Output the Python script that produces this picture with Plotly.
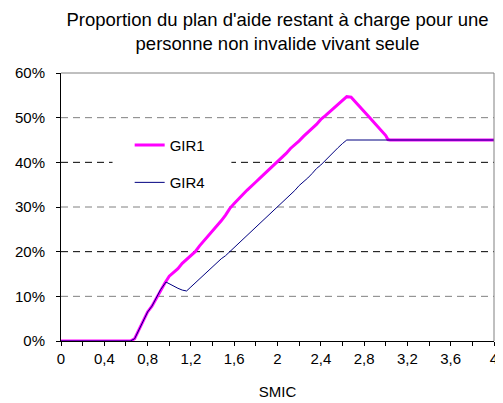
import plotly.graph_objects as go

# ---- data ----
gir1_x = [0, 0.64, 0.68, 0.72, 0.76, 0.80, 0.84, 0.88, 0.92, 0.96, 1.00, 1.04, 1.08, 1.12, 1.16,
          1.20, 1.24, 1.28, 1.32, 1.36, 1.40, 1.44, 1.48, 1.52, 1.56, 1.60, 1.64, 1.68, 1.72,
          1.76, 1.80, 1.84, 1.88, 1.92, 1.96, 2.00, 2.04, 2.08, 2.12, 2.16, 2.20, 2.24, 2.28,
          2.32, 2.36, 2.40, 2.44, 2.48, 2.52, 2.56, 2.60, 2.64, 2.68, 2.72, 2.76, 2.80, 2.84,
          2.88, 2.92, 2.96, 3.00, 3.02, 3.04, 4.00]
gir1_y = [0, 0, 0.5, 2.5, 4.5, 6.5, 7.8, 9.6, 11.5, 13.0, 14.5, 15.4, 16.2, 17.4, 18.2,
          19.0, 20.0, 21.3, 22.4, 23.5, 24.6, 25.8, 26.9, 28.2, 29.7, 30.8, 31.9, 32.8, 33.8,
          34.6, 35.6, 36.5, 37.4, 38.4, 39.3, 40.3, 41.2, 42.0, 43.1, 43.9, 44.8, 45.8, 46.6,
          47.6, 48.5, 49.6, 50.4, 51.3, 52.2, 53.0, 54.0, 54.7, 54.6, 53.6, 52.6, 51.4, 50.3,
          49.2, 48.1, 47.0, 46.0, 45.1, 45.0, 45.0]

gir4_x = [0, 0.64, 0.68, 0.72, 0.76, 0.80, 0.84, 0.88, 0.92, 0.97, 1.00, 1.04, 1.08, 1.12, 1.16,
          1.20, 1.24, 1.28, 1.32, 1.36, 1.40, 1.44, 1.48, 1.52, 1.56, 1.60, 1.64, 1.68, 1.72,
          1.76, 1.80, 1.84, 1.88, 1.92, 1.96, 2.00, 2.04, 2.08, 2.12, 2.16, 2.20, 2.24, 2.28,
          2.32, 2.36, 2.40, 2.44, 2.48, 2.52, 2.56, 2.60, 2.64, 4.00]
gir4_y = [0, 0, 0.5, 2.5, 4.5, 6.5, 7.8, 9.6, 11.5, 13.2, 12.8, 12.3, 11.8, 11.4, 11.2,
          12.1, 13.0, 14.0, 14.8, 15.8, 16.6, 17.4, 18.4, 19.1, 20.0, 20.9, 21.8, 22.8, 23.6,
          24.7, 25.5, 26.4, 27.3, 28.3, 29.2, 30.0, 30.9, 31.9, 32.8, 33.7, 34.8, 35.6, 36.5,
          37.5, 38.6, 39.4, 40.4, 41.5, 42.4, 43.3, 44.2, 45.0, 45.0]

x_tick_vals = [0, 0.4, 0.8, 1.2, 1.6, 2.0, 2.4, 2.8, 3.2, 3.6, 4.0]
x_tick_text = ["0", "0,4", "0,8", "1,2", "1,6", "2", "2,4", "2,8", "3,2", "3,6", "4"]
y_tick_vals = [0, 10, 20, 30, 40, 50, 60]
y_tick_text = ["0%", "10%", "20%", "30%", "40%", "50%", "60%"]
grid_levels = [10, 20, 30, 40, 50]
grid_colors = ["#808080", "#000000", "#808080", "#000000", "#808080"]

FONT = "Liberation Sans, Arial, sans-serif"

fig = go.Figure()
fig.add_trace(go.Scatter(x=gir1_x, y=gir1_y, mode="lines", name="GIR1",
                         line=dict(color="#FF00FF", width=3), legend="legend"))
fig.add_trace(go.Scatter(x=gir4_x, y=gir4_y, mode="lines", name="GIR4",
                         line=dict(color="#000080", width=1), legend="legend2"))

shapes = []
for lvl, col in zip(grid_levels, grid_colors):
    shapes.append(dict(type="line", xref="x domain", yref="y", x0=0, x1=1, y0=lvl, y1=lvl,
                       line=dict(color=col, width=1, dash="7px,5px"), layer="below"))
# white legend background hiding the gridline
shapes.append(dict(type="rect", xref="x", yref="y", x0=0.476, x1=1.574, y0=33.0, y1=47.0,
                   fillcolor="white", line=dict(width=0), layer="below"))
# top and right frame
shapes.append(dict(type="line", xref="x domain", yref="y domain", x0=0, x1=1, y0=1, y1=1,
                   line=dict(color="#808080", width=1)))
shapes.append(dict(type="line", xref="x domain", yref="y domain", x0=1, x1=1, y0=0, y1=1,
                   line=dict(color="#808080", width=1)))

fig.update_layout(
    width=495, height=395,
    margin=dict(l=53, r=5, t=65, b=62),
    paper_bgcolor="white", plot_bgcolor="white",
    font=dict(family=FONT, size=15, color="black"),
    title=dict(text="Proportion du plan d'aide restant à charge pour une<br>personne non invalide vivant seule",
               x=0.5, xanchor="center", xref="paper", y=0.954, yanchor="top",
               font=dict(family=FONT, size=18.5, color="black")),
    shapes=shapes,
    showlegend=True,
    legend=dict(x=0.1586, y=0.73, xanchor="left", yanchor="middle", bgcolor="rgba(0,0,0,0)",
                font=dict(family=FONT, size=15), itemwidth=30),
    legend2=dict(x=0.1586, y=0.591, xanchor="left", yanchor="middle", bgcolor="rgba(0,0,0,0)",
                 font=dict(family=FONT, size=15), itemwidth=30),
    xaxis=dict(range=[0, 4], tickmode="array", tickvals=x_tick_vals, ticktext=x_tick_text,
               ticks="outside", ticklen=4, tickcolor="black", showgrid=False, zeroline=False,
               showline=True, linecolor="black", linewidth=1,
               minor=dict(dtick=0.2, ticks="outside", ticklen=4, tickcolor="black", showgrid=False),
               title=dict(text="SMIC", font=dict(size=15), standoff=20),
               tickfont=dict(size=15)),
    yaxis=dict(range=[0, 60], tickmode="array", tickvals=y_tick_vals, ticktext=y_tick_text,
               ticks="outside", ticklen=4, tickcolor="black", showgrid=False, zeroline=False,
               showline=True, linecolor="black", linewidth=1, ticklabelstandoff=8,
               tickfont=dict(size=15)),
)

fig.write_html("out.html")
